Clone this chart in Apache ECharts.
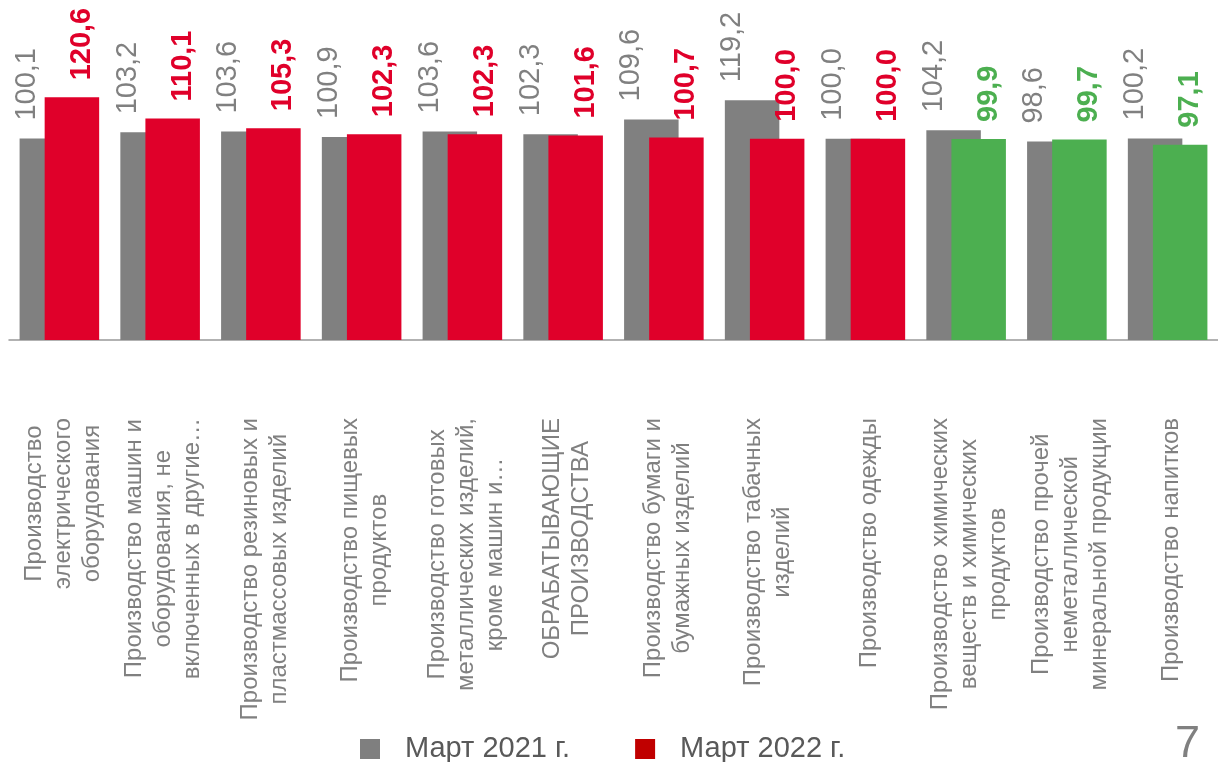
<!DOCTYPE html>
<html>
<head>
<meta charset="utf-8">
<script src="https://cdn.jsdelivr.net/npm/echarts@6/dist/echarts.min.js"></script>
<style>
html,body{margin:0;padding:0;background:#fff;}
#chart{width:1218px;height:762px;}
</style>
</head>
<body>
<div id="chart"></div>
<script>
const categories = [
  "Производство\nэлектрического\nоборудования",
  "Производство машин и\nоборудования, не\nвключенных в другие…",
  "Производство резиновых и\nпластмассовых изделий",
  "Производство пищевых\nпродуктов",
  "Производство готовых\nметаллических изделий,\nкроме машин и…",
  "ОБРАБАТЫВАЮЩИЕ\nПРОИЗВОДСТВА",
  "Производство бумаги и\nбумажных изделий",
  "Производство табачных\nизделий",
  "Производство одежды",
  "Производство химических\nвеществ и химических\nпродуктов",
  "Производство прочей\nнеметаллической\nминеральной продукции",
  "Производство напитков"
];
const seriesNames = ["Март 2021 г.", "Март 2022 г."];
const values2021 = [100.1, 103.2, 103.6, 100.9, 103.6, 102.3, 109.6, 119.2, 100.0, 104.2, 98.6, 100.2];
const values2022 = [120.6, 110.1, 105.3, 102.3, 102.3, 101.6, 100.7, 100.0, 100.0, 99.9, 99.7, 97.1];
const pageNumber = "7";

const FONT = "'Liberation Sans', Arial, sans-serif";
const GRAY = "#808080";
const RED = "#e0002a";
const GREEN = "#4caf50";

const fmt = v => v.toFixed(1).replace('.', ',');

const chart = echarts.init(document.getElementById('chart'), null, {renderer: 'canvas'});

const option = {
  animation: false,
  backgroundColor: '#fff',
  grid: { left: 9, right: -11, top: 38.2, bottom: 422, containLabel: false },
  xAxis: {
    type: 'category',
    data: categories,
    axisLine: { show: true, lineStyle: { color: '#999999', width: 1.5 } },
    axisTick: { show: false },
    axisLabel: {
      interval: 0,
      rotate: 90,
      margin: 78,
      padding: [7, 0, 0, 0],
      formatter: v => v.split('\n').map(l => '{c|' + l + '}').join('\n'),
      rich: {
        c: { align: 'center', fontSize: 24, lineHeight: 29, color: GRAY, fontFamily: FONT }
      }
    }
  },
  yAxis: {
    type: 'value', min: 0, max: 150,
    show: false, splitLine: { show: false }
  },
  legend: {
    left: 355, top: 729,
    itemWidth: 20, itemHeight: 20, itemGap: 65,
    icon: 'rect',
    textStyle: { fontSize: 29, color: '#595959', fontFamily: FONT, padding: [0, 0, 0, 20], lineHeight: 30 },
    data: [
      { name: seriesNames[0], itemStyle: { color: '#7f7f7f' } },
      { name: seriesNames[1], itemStyle: { color: '#c00000' } }
    ]
  },
  series: [
    {
      name: seriesNames[0], type: 'bar',
      barWidth: 54.5, barGap: '-54%',
      itemStyle: { color: GRAY },
      data: values2021,
      label: {
        show: true, position: 'top', rotate: 90, align: 'left', verticalAlign: 'middle',
        distance: 18, offset: [0, -20],
        formatter: p => fmt(p.value),
        fontSize: 29, color: GRAY, fontFamily: FONT
      }
    },
    {
      name: seriesNames[1], type: 'bar',
      barWidth: 54.5, barGap: '-54%',
      data: values2022.map(v => ({
        value: v,
        itemStyle: { color: v < 100 ? GREEN : RED },
        label: { color: v < 100 ? GREEN : RED }
      })),
      label: {
        show: true, position: 'top', rotate: 90, align: 'left', verticalAlign: 'middle',
        distance: 17, offset: [0, 10],
        formatter: p => fmt(p.value),
        fontSize: 29, fontWeight: 'bold', fontFamily: FONT
      }
    }
  ],
  graphic: [
    { type: 'text', left: 1175, top: 722, style: { text: pageNumber, fontSize: 45, fill: GRAY, fontFamily: FONT } }
  ]
};
chart.setOption(option);
</script>
</body>
</html>
